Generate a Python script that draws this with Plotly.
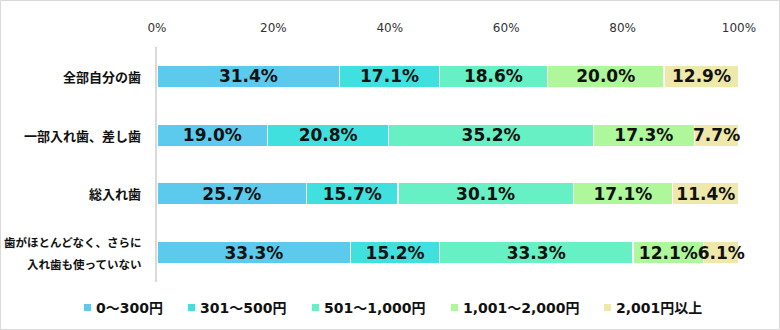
import plotly.graph_objects as go

categories = ["全部自分の歯", "一部入れ歯、差し歯", "総入れ歯", "歯がほとんどなく、さらに\n入れ歯も使っていない"]
series_names = ["0～300円", "301～500円", "501～1,000円", "1,001～2,000円", "2,001円以上"]
v_0_300 = [31.4, 19.0, 25.7, 33.3]
v_301_500 = [17.1, 20.8, 15.7, 15.2]
v_501_1000 = [18.6, 35.2, 30.1, 33.3]
v_1001_2000 = [20.0, 17.3, 17.1, 12.1]
v_2001_up = [12.9, 7.7, 11.4, 6.1]
tick_vals = [0, 20, 40, 60, 80, 100]
tick_text = ["0%", "20%", "40%", "60%", "80%", "100%"]

series_values = [v_0_300, v_301_500, v_501_1000, v_1001_2000, v_2001_up]
colors = ["#5BCAEC", "#40E0DF", "#66F0C3", "#AEF79A", "#EEE8AA"]

# layout constants (pixels)
W, H = 780, 330
ML, MR, MT, MB = 157, 41, 47, 48
PW, PH = W - ML - MR, H - MT - MB
legend_px = [84, 188, 312, 451, 604]   # left edge of each legend swatch
legend_y = 307

CJK = "Noto Sans CJK JP"
MIX = "DejaVu Sans, Noto Sans CJK JP"
ykeys = list(range(len(categories)))

def px_x(px):
    return (px - ML) / PW

def px_y(py):
    return (H - MB - py) / PH

fig = go.Figure()
for name, vals, col in zip(series_names, series_values, colors):
    fig.add_trace(go.Bar(
        name=name, y=ykeys, x=vals, orientation="h",
        marker=dict(color=col, line=dict(color="white", width=1.2)),
        text=[f"{v:.1f}%" for v in vals],
        textposition="inside", insidetextanchor="middle",
        constraintext="none", textangle=0,
        textfont=dict(family=MIX, size=17, color="#111111", weight="bold"),
        cliponaxis=False, hoverinfo="skip", showlegend=False,
    ))

annotations = []
for i, cat in enumerate(categories):
    lines = cat.split("\n")
    n = len(lines)
    size = 13 if n == 1 else 11.5
    for j, line in enumerate(lines):
        annotations.append(dict(
            xref="paper", yref="y", x=0, y=i, xshift=-14,
            yshift=(n - 1) * 11 - j * 22,
            text=line, showarrow=False, xanchor="right", yanchor="middle",
            font=dict(family=CJK, size=size, color="#111111", weight="bold"),
        ))

shapes = []
for name, col, lx in zip(series_names, colors, legend_px):
    shapes.append(dict(type="rect", xref="paper", yref="paper",
                       x0=px_x(lx), x1=px_x(lx + 7), y0=px_y(legend_y + 4), y1=px_y(legend_y - 3),
                       fillcolor=col, line=dict(width=0)))
    annotations.append(dict(xref="paper", yref="paper", x=px_x(lx + 10), y=px_y(legend_y + 1),
                            text=name, showarrow=False, xanchor="left", yanchor="middle",
                            font=dict(family=MIX, size=14, color="#111111", weight="bold")))

shapes.append(dict(type="rect", xref="paper", yref="paper",
                   x0=px_x(0.5), x1=px_x(W - 0.5), y0=px_y(H - 0.5), y1=px_y(0.5),
                   line=dict(color="#D9D9D9", width=1), fillcolor="rgba(0,0,0,0)", layer="below"))

fig.update_layout(
    width=W, height=H,
    margin=dict(l=ML, r=MR, t=MT, b=MB),
    barmode="stack", bargap=0.625,
    plot_bgcolor="white", paper_bgcolor="white",
    showlegend=False,
    xaxis=dict(range=[0, 100], side="top", tickvals=tick_vals, ticktext=tick_text,
               showgrid=False, zeroline=False, showline=False, ticks="",
               ticklabelstandoff=12,
               tickfont=dict(family="DejaVu Sans", size=12, color="#333333")),
    yaxis=dict(range=[len(categories) - 0.5, -0.5], showticklabels=False, ticks="",
               showgrid=False, zeroline=False, showline=True, linecolor="#D9D9D9", linewidth=2),
    annotations=annotations,
    shapes=shapes,
    font=dict(family=MIX),
)

fig.write_html("out.html")
